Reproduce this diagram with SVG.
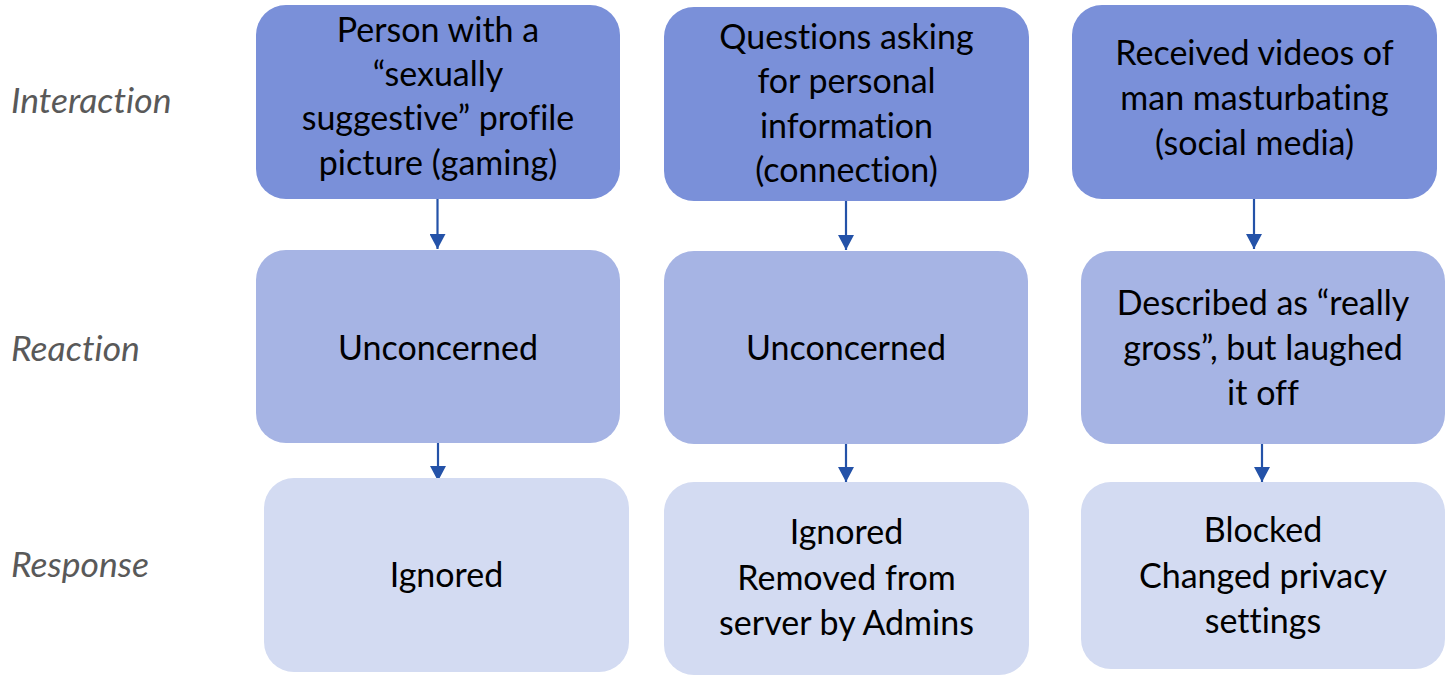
<svg xmlns="http://www.w3.org/2000/svg" width="1451" height="677" viewBox="0 0 1451 677">
<style>
.t{font-family:Lato,"Open Sans","Liberation Sans",sans-serif;font-size:34px;fill:#000;text-anchor:middle;font-variant-ligatures:none}
.lbl{font-family:Lato,"Open Sans","Liberation Sans",sans-serif;font-size:35.5px;font-style:italic;fill:#595959;font-variant-ligatures:none}
.top{fill:#7A90D9}
.mid{fill:#A6B4E4}
.bot{fill:#D3DBF2}
.con{stroke:#2452A8;stroke-width:2.2;fill:none;marker-end:url(#ah)}
</style>
<defs>
<marker id="ah" markerUnits="userSpaceOnUse" markerWidth="16" markerHeight="16" refX="15" refY="8" orient="auto" viewBox="0 0 16 16">
<path d="M0,0 L15,8 L0,16 Z" fill="#2452A8"/>
</marker>
</defs>
<rect width="1451" height="677" fill="#fff"/>
<g id="labels">
<text class="lbl" x="11" y="113">Interaction</text>
<text class="lbl" x="11" y="361">Reaction</text>
<text class="lbl" x="11" y="577">Response</text>
</g>
<g id="connectors">
<line class="con" x1="437.5" y1="199" x2="437.5" y2="249"/>
<line class="con" x1="438" y1="443" x2="438" y2="481"/>
<line class="con" x1="846" y1="201" x2="846" y2="250"/>
<line class="con" x1="846" y1="444" x2="846" y2="482"/>
<line class="con" x1="1254" y1="199" x2="1254" y2="249"/>
<line class="con" x1="1262" y1="444" x2="1262" y2="482"/>
</g>
<g id="n1">
<rect class="top" x="256" y="5" width="364" height="194" rx="30"/>
<text class="t" x="438" y="42">Person with a</text>
<text class="t" x="438" y="86">“sexually</text>
<text class="t" x="438" y="130">suggestive” profile</text>
<text class="t" x="438" y="175">picture (gaming)</text>
</g>
<g id="n2">
<rect class="top" x="664" y="7" width="365" height="194" rx="30"/>
<text class="t" x="846.5" y="49">Questions asking</text>
<text class="t" x="846.5" y="93">for personal</text>
<text class="t" x="846.5" y="138">information</text>
<text class="t" x="846.5" y="182">(connection)</text>
</g>
<g id="n3">
<rect class="top" x="1072" y="5" width="365" height="194" rx="30"/>
<text class="t" x="1254.5" y="65">Received videos of</text>
<text class="t" x="1254.5" y="110">man masturbating</text>
<text class="t" x="1254.5" y="155">(social media)</text>
</g>
<g id="n4">
<rect class="mid" x="256" y="250" width="364" height="193" rx="30"/>
<text class="t" x="438" y="360">Unconcerned</text>
</g>
<g id="n5">
<rect class="mid" x="664" y="251" width="364" height="193" rx="30"/>
<text class="t" x="846" y="360">Unconcerned</text>
</g>
<g id="n6">
<rect class="mid" x="1081" y="251" width="364" height="193" rx="30"/>
<text class="t" x="1263" y="315">Described as “really</text>
<text class="t" x="1263" y="360">gross”, but laughed</text>
<text class="t" x="1263" y="405">it off</text>
</g>
<g id="n7">
<rect class="bot" x="264" y="478" width="365" height="194" rx="30"/>
<text class="t" x="446.5" y="587">Ignored</text>
</g>
<g id="n8">
<rect class="bot" x="664" y="482" width="365" height="193" rx="30"/>
<text class="t" x="846.5" y="544">Ignored</text>
<text class="t" x="846.5" y="590">Removed from</text>
<text class="t" x="846.5" y="635">server by Admins</text>
</g>
<g id="n9">
<rect class="bot" x="1081" y="482" width="364" height="187" rx="30"/>
<text class="t" x="1263" y="542">Blocked</text>
<text class="t" x="1263" y="588">Changed privacy</text>
<text class="t" x="1263" y="633">settings</text>
</g>
</svg>
